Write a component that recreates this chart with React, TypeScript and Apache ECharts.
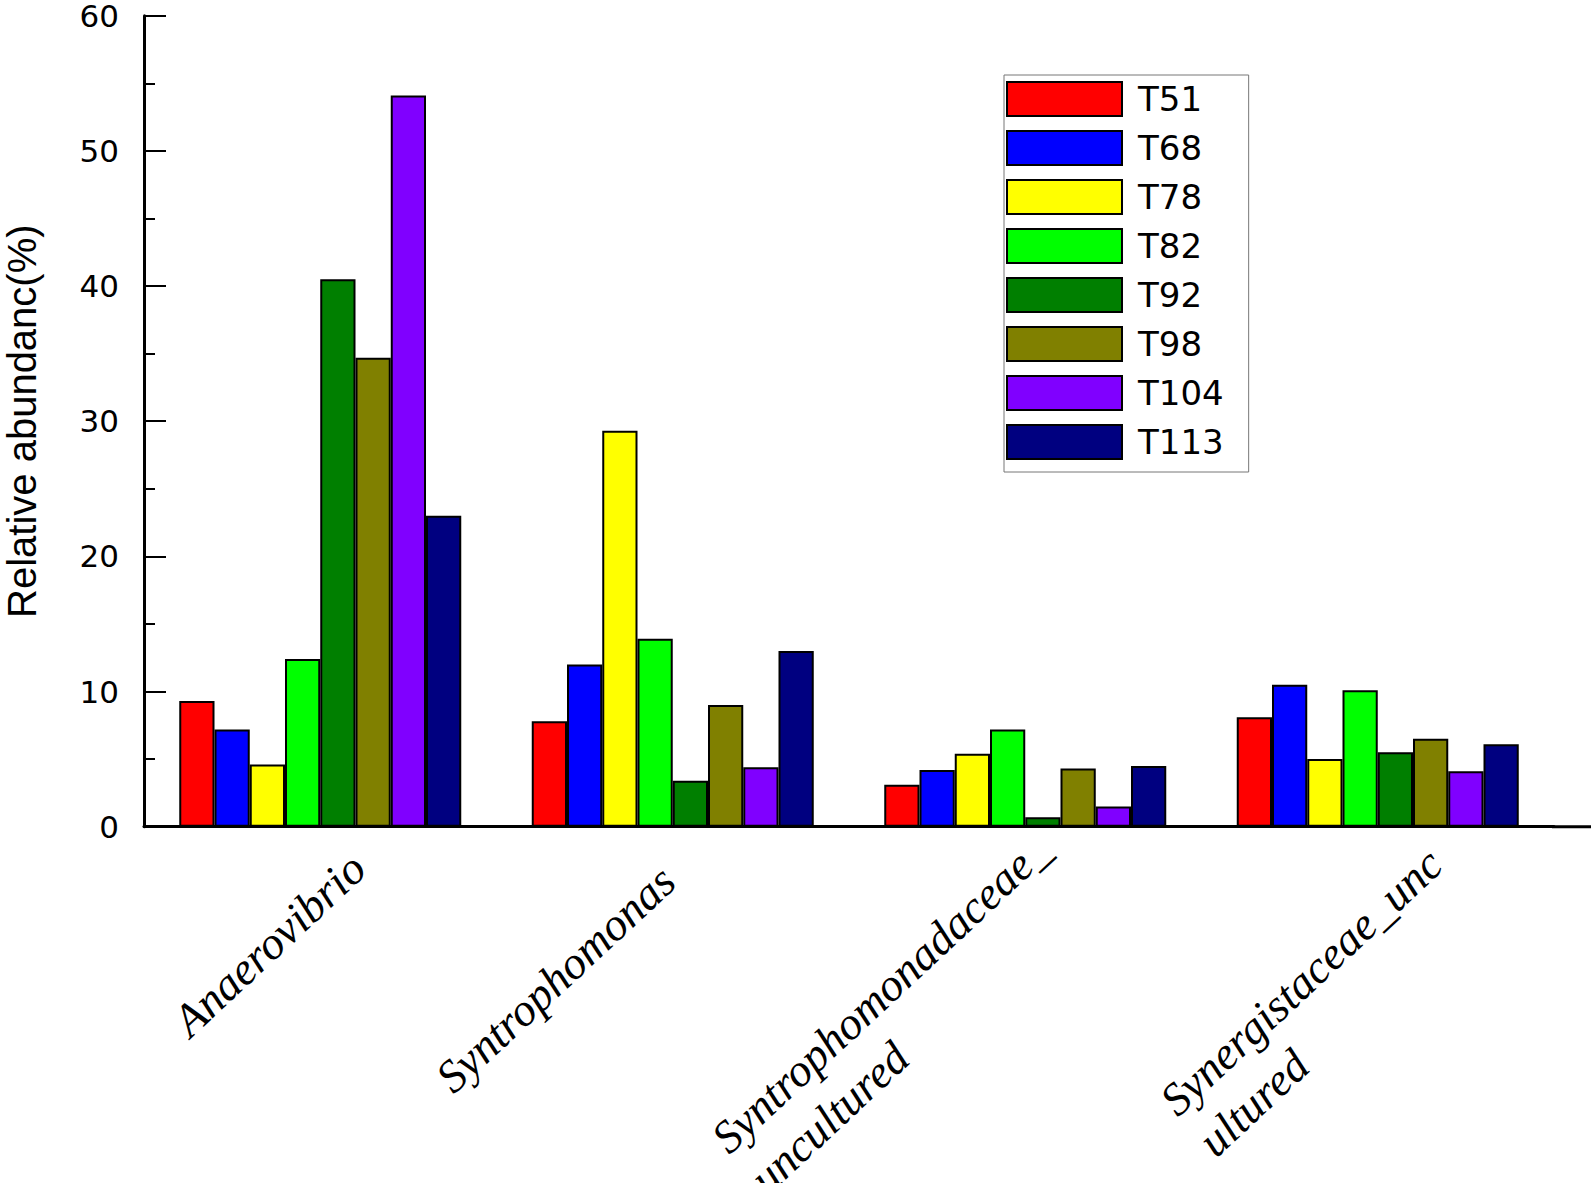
import React, { useEffect, useRef } from "react";
import * as echarts from "echarts";

const categories = [
  "Anaerovibrio",
  "Syntrophomonas",
  "Syntrophomonadaceae_\nuncultured",
  "Synergistaceae_unc\nultured",
];
const seriesNames = ["T51", "T68", "T78", "T82", "T92", "T98", "T104", "T113"];
const seriesColors = ["#ff0000", "#0000ff", "#ffff00", "#00ff00", "#007f00", "#808000", "#8000ff", "#000080"];
const T51 = [9.3, 7.8, 3.1, 8.1];
const T68 = [7.2, 12.0, 4.2, 10.5];
const T78 = [4.6, 29.3, 5.4, 5.0];
const T82 = [12.4, 13.9, 7.2, 10.1];
const T92 = [40.5, 3.4, 0.7, 5.5];
const T98 = [34.7, 9.0, 4.3, 6.5];
const T104 = [54.1, 4.4, 1.5, 4.1];
const T113 = [23.0, 13.0, 4.5, 6.1];
const seriesValues = [T51, T68, T78, T82, T92, T98, T104, T113];
const yTicks = { min: 0, max: 60, interval: 10 };

const labelFont = {
  fontFamily: "Liberation Serif",
  fontStyle: "italic",
  fontSize: 46,
  lineHeight: 56,
  color: "#000",
  align: "left",
};

export default function App() {
  const ref = useRef<HTMLDivElement>(null);
  useEffect(() => {
    document.body.style.margin = "0";
    if (!ref.current) return;
    const chart = echarts.init(ref.current, null, { renderer: "svg" });
    chart.setOption({
      animation: false,
      backgroundColor: "#ffffff",
      grid: { left: 144, top: 15.7, width: 1410, height: 811, outerBoundsMode: "none" },
      legend: {
        orient: "vertical",
        left: 1004,
        top: 75,
        data: seriesNames,
        icon: "rect",
        itemWidth: 115,
        itemHeight: 34,
        itemGap: 13,
        padding: [6, 25, 12, 2],
        borderColor: "#777",
        borderWidth: 1,
        textStyle: { fontFamily: "DejaVu Sans", fontSize: 34, color: "#000", padding: [0, 0, 0, 11] },
      },
      xAxis: {
        type: "category",
        data: categories,
        axisLine: { lineStyle: { color: "#000", width: 3 } },
        axisTick: { show: false },
        axisLabel: {
          rotate: 43,
          margin: 70,
          interval: 0,
          color: "#000",
          formatter: (v: string, idx: number) =>
            v.split("\n").map((l) => `{a${idx}|${l}}`).join("\n"),
          rich: {
            a0: { ...labelFont, padding: [0, -52, 0, 0] },
            a1: { ...labelFont, padding: [0, -12, 40, 0] },
            a2: { ...labelFont, padding: [0, -50, 0, 0] },
            a3: { ...labelFont, padding: [76, -69, 0, 0] },
          },
        },
      },
      yAxis: {
        type: "value",
        min: yTicks.min,
        max: yTicks.max,
        interval: yTicks.interval,
        name: "Relative abundanc(%)",
        nameLocation: "middle",
        nameRotate: 90,
        nameGap: 102,
        nameTextStyle: { fontFamily: "Liberation Sans", fontSize: 40, color: "#000" },
        axisLine: { show: true, lineStyle: { color: "#000", width: 3 } },
        axisTick: { show: true, inside: true, length: 22, lineStyle: { color: "#000", width: 2 } },
        minorTick: { show: true, splitNumber: 2, length: 11, lineStyle: { color: "#000", width: 2 } },
        splitLine: { show: false },
        axisLabel: { fontFamily: "DejaVu Sans", fontSize: 31, color: "#000", margin: 25 },
      },
      graphic: [
        {
          type: "line",
          shape: { x1: 1552, y1: 826.7, x2: 1591, y2: 826.7 },
          style: { stroke: "#000", lineWidth: 3 },
          z: 10,
        },
      ],
      series: seriesNames.map((name, i) => ({
        name,
        type: "bar",
        data: seriesValues[i],
        barGap: "0%",
        barCategoryGap: "20%",
        itemStyle: { color: seriesColors[i], borderColor: "#000", borderWidth: 2 },
      })),
    });
    return () => chart.dispose();
  }, []);
  return <div ref={ref} style={{ width: 1595, height: 1183 }} />;
}
